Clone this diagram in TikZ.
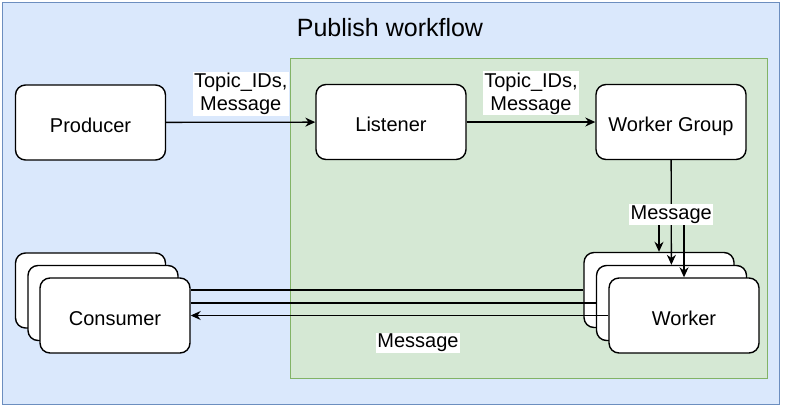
\documentclass[tikz,border=0pt]{standalone}
\usepackage{fontspec}
\setmainfont{Liberation Sans}
\usetikzlibrary{positioning,arrows.meta}
\definecolor{blaufill}{HTML}{DAE8FC}
\definecolor{blaurand}{HTML}{6C8EBF}
\definecolor{gruenfill}{HTML}{D5E8D4}
\definecolor{gruenrand}{HTML}{82B366}

\begin{document}
\begin{tikzpicture}[x=0.5pt,y=-0.5pt,
		box/.style={draw=black, line width=0.7pt, fill=white, rounded corners=5pt, minimum width=75pt, minimum height=37.5pt, text height=9.6pt, text depth=0pt, font=\fontsize{10}{12}\selectfont},
		lbl/.style={fill=white, inner sep=0.6pt, align=center, font=\fontsize{10}{11.5}\selectfont},
		pfeil/.style={-{Stealth[length=5pt,width=4.5pt]}, line width=0.65pt}]
		\useasboundingbox (0,0) rectangle (785,407);

		% Rahmen
		\draw[draw=blaurand, fill=blaufill, line width=0.5pt] (2,2) rectangle (779,404);
		\draw[draw=gruenrand, fill=gruenfill, line width=0.5pt] (290,58) rectangle (767,378);
		\node[font=\fontsize{12.5}{15}\selectfont] (titel) at (390,28) {Publish workflow};

		% Knoten
		\node[box] (prod) at (90.5,122.5) {Producer};
		\node[box] (list) at (391,122) {Listener};
		\node[box] (wg) at (671,122) {Worker Group};

		\node[box] (wrk1) at (659,290) {};
		\node[box] (wrk2) at (671.5,303) {};
		\node[box] (wrk3) at (684,315.5) {Worker};

		\node[box] (cons1) at (90.5,290.5) {};
		\node[box] (cons2) at (103,303) {};
		\node[box] (cons3) at (115,315.5) {Consumer};

		% Pfeile
		\draw[pfeil] (prod) -- (list) node[lbl, midway, above=3pt] {Topic\_IDs,\\Message};
		\draw[pfeil] (list) -- (wg) node[lbl, midway, above=3pt] {Topic\_IDs,\\Message};

		\draw[pfeil] (wg) -- (wrk2) node[lbl, midway, yshift=-1pt] (msg) {Message};
		\draw[pfeil] (msg.south -| wrk1.north) -- (wrk1.north);
		\draw[pfeil] (msg.south -| wrk3.north) -- (wrk3.north);

		\draw[line width=0.65pt] (wrk1.west) -- (wrk1.west -| cons3.east);
		\draw[line width=0.65pt] (wrk2.west) -- (wrk2.west -| cons3.east);
		\draw[pfeil] (wrk3.west) -- (cons3.east);
		\node[lbl] (msgunten) at (418,343) {Message};
	\end{tikzpicture}
\end{document}
